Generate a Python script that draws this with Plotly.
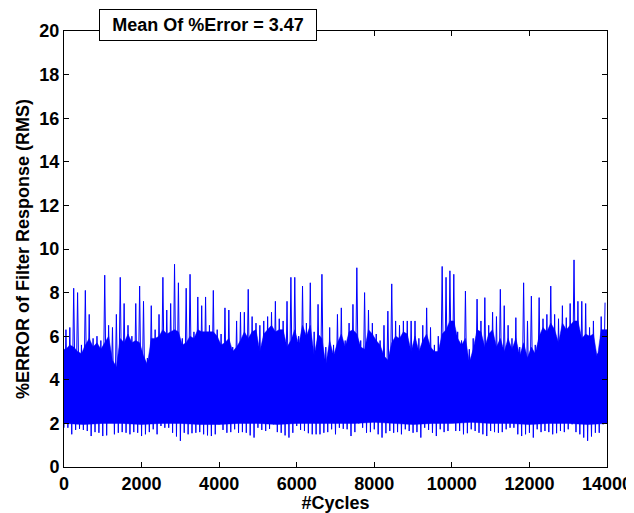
import plotly.graph_objects as go

# Upper spike envelope per 100-cycle bin
peaks = [6.3, 6.4, 8.2, 8.0, 5.6, 8.1, 7.0, 5.9, 6.0, 5.8, 8.8, 6.5, 6.4, 7.0, 8.7, 7.5, 6.5, 6.0, 7.5, 8.3, 7.6, 5.0, 7.4, 6.3,
         7.0, 8.7, 7.2, 7.5, 9.3, 8.45, 5.9, 8.2, 8.84, 6.2, 7.8, 7.4, 7.8, 6.5, 8.1, 6.3, 6.1, 7.3, 7.2, 5.5, 6.7, 7.1, 7.1,
         8.15, 6.9, 6.6, 6.5, 6.7, 6.9, 7.1, 7.6, 6.8, 6.7, 7.6, 8.7, 8.7, 6.0, 8.3, 6.6, 8.45, 6.2, 7.46, 8.84, 5.5, 6.4, 5.6,
         7.0, 7.3, 5.8, 6.6, 7.46, 9.14, 5.8, 8.0, 7.2, 6.6, 6.1, 5.8, 6.5, 7.15, 8.4, 6.7, 6.5, 6.7, 6.7, 6.7, 6.7, 5.9, 6.5,
         7.3, 6.4, 5.6, 6.0, 9.2, 8.7, 9.0, 8.84, 6.2, 5.8, 8.07, 5.4, 5.9, 7.7, 6.7, 7.77, 6.5, 7.1, 6.9, 8.15, 7.4, 6.5, 5.9,
         6.85, 5.5, 8.45, 6.7, 7.84, 5.6, 7.77, 6.8, 7.0, 8.3, 7.0, 6.8, 7.4, 6.85, 7.5, 9.5, 7.6, 7.6, 7.5, 6.4, 6.7, 5.2, 6.9, 7.54]

# Lower trough envelope per 100-cycle bin
troughs = [1.8, 1.8, 1.5, 1.7, 1.75, 1.7, 1.65, 1.42, 1.6, 1.57, 1.42, 1.45, 2.1, 1.5, 1.57, 1.6, 1.57, 1.5, 1.6, 1.57, 1.42, 1.5, 1.6, 1.73,
           1.5, 1.88, 1.8, 1.8, 1.57, 1.4, 1.2, 1.57, 1.5, 1.55, 1.57, 1.6, 1.5, 1.45, 1.42, 1.5, 1.96, 1.7, 1.57, 1.6, 1.73, 1.57, 1.6,
           1.57, 1.45, 1.35, 1.8, 1.7, 1.65, 1.75, 1.96, 1.6, 1.57, 1.45, 1.35, 1.57, 1.88, 1.7, 1.65, 1.55, 1.5, 1.5, 1.5, 1.57, 1.6, 1.73,
           1.5, 1.8, 1.75, 1.73, 1.42, 1.6, 2.0, 1.8, 1.57, 1.6, 1.73, 1.5, 1.35, 1.55, 1.65, 1.57, 1.6, 1.5, 1.73, 1.65, 1.57, 1.6, 1.35,
           1.8, 1.7, 1.57, 1.42, 1.73, 1.6, 1.65, 2.2, 1.65, 1.65, 1.5, 1.55, 1.73, 1.65, 1.57, 1.5, 1.42, 1.65, 1.6, 1.57, 1.6, 1.73, 1.8,
           1.8, 1.5, 1.42, 1.5, 1.57, 1.35, 1.73, 1.6, 1.65, 1.6, 1.5, 1.55, 1.65, 1.6, 1.73, 1.96, 1.6, 1.5, 1.35, 1.2, 1.4, 1.57, 1.57, 1.96]

# Top of the dense (solid) band per 100-cycle bin
band_top = [5.4, 5.6, 5.5, 5.3, 5.2, 5.6, 5.9, 5.5, 5.7, 5.4, 5.7, 6.0, 4.9, 4.6, 5.9, 5.7, 6.1, 5.7, 5.8, 5.7, 5.1, 4.7, 5.9, 5.9,
            6.0, 6.3, 6.1, 6.2, 6.3, 6.2, 5.6, 5.7, 6.0, 5.9, 6.3, 6.2, 6.2, 6.2, 6.2, 6.0, 5.6, 5.7, 5.9, 5.3, 5.5, 5.8, 6.2,
            5.9, 6.2, 6.3, 5.3, 6.1, 6.3, 6.5, 6.2, 6.3, 6.3, 5.5, 5.8, 6.3, 5.6, 6.5, 6.0, 6.5, 5.1, 6.1, 5.9, 4.7, 5.8, 5.1,
            5.7, 6.1, 5.5, 6.2, 6.3, 6.1, 5.5, 5.4, 6.3, 6.1, 5.8, 5.6, 5.1, 4.9, 5.7, 6.0, 5.9, 6.2, 6.1, 5.3, 6.0, 5.3, 5.8,
            6.1, 5.5, 5.3, 5.3, 6.1, 6.3, 6.7, 6.7, 5.9, 5.6, 5.9, 4.8, 5.4, 6.3, 6.2, 5.5, 6.1, 6.3, 5.5, 5.9, 5.3, 5.9, 5.4,
            5.9, 5.1, 5.7, 5.0, 5.5, 5.2, 6.0, 6.4, 6.2, 6.6, 6.3, 5.7, 6.6, 6.3, 6.5, 6.7, 6.7, 5.9, 6.1, 6.0, 6.1, 5.0, 6.3, 6.3]

# Bottom of the dense band (every 500 cycles)
core_bottom = [2.0, 1.95, 2.0, 2.0, 1.95, 2.0, 2.0, 1.95, 1.95, 2.0, 2.0, 1.95, 2.0, 2.0, 2.0,
               2.0, 2.05, 2.0, 1.95, 2.0, 2.0, 2.05, 2.0, 2.0, 1.95, 2.0, 2.0, 1.95, 2.0]

bin_width = 100
core_step = 500
x_ticks = [0, 2000, 4000, 6000, 8000, 10000, 12000, 14000]
x_tick_text = ["0", "2000", "4000", "6000", "8000", "10000", "12000", "14000"]
y_ticks = [0, 2, 4, 6, 8, 10, 12, 14, 16, 18, 20]
mean_error = 3.47

BLUE = "#0000FF"
FONT = "Liberation Sans, Arial, sans-serif"
FS = 18

# zigzag series: trough then peak in each bin
xs, ys = [], []
for k, (t, p) in enumerate(zip(troughs, peaks)):
    xs += [k * bin_width, k * bin_width + bin_width / 2]
    ys += [t, p]

xb = [k * bin_width + bin_width / 2 for k in range(len(band_top))]
xc = [i * core_step for i in range(len(core_bottom))]

# polygon: band top left->right, then bottom right->left
poly_x = [0] + xb + [14000] + xc[::-1]
poly_y = [band_top[0]] + band_top + [band_top[-1]] + core_bottom[::-1]

fig = go.Figure()
fig.add_trace(go.Scatter(x=poly_x, y=poly_y, mode="lines", line=dict(width=0.5, color=BLUE),
                         fill="toself", fillcolor=BLUE, hoverinfo="skip", showlegend=False))
fig.add_trace(go.Scatter(x=xs, y=ys, mode="lines", line=dict(width=1, color=BLUE),
                         showlegend=False))

axis_common = dict(showgrid=False, zeroline=False, showline=True, linecolor="black", linewidth=1,
                   mirror="ticks", ticks="inside", ticklen=5, tickcolor="black", automargin=False,
                   tickfont=dict(family=FONT, size=FS, color="black", weight="bold"))

# page body has an 8px default margin, so the figure is 8px smaller and shifted
fig.update_layout(
    width=626, height=505,
    margin=dict(l=56, r=27, t=23, b=46),
    plot_bgcolor="white", paper_bgcolor="white",
    showlegend=False,
    xaxis=dict(range=[0, 14000], tickvals=x_ticks, ticktext=x_tick_text, **axis_common,
               title=dict(text="#Cycles", standoff=2,
                          font=dict(family=FONT, size=FS, color="black", weight="bold"))),
    yaxis=dict(range=[0, 20], tickvals=y_ticks, **axis_common,
               title=dict(text="%ERROR of Filter Response (RMS)", standoff=5,
                          font=dict(family=FONT, size=FS, color="black", weight="bold"))),
    annotations=[dict(text=f"Mean Of %Error = {mean_error}", xref="paper", yref="paper",
                      x=(208 - 64) / 543, y=(467 - 25) / 436, xanchor="center", yanchor="middle",
                      showarrow=False, bgcolor="white", bordercolor="black", borderwidth=1,
                      borderpad=2, width=212, height=26,
                      font=dict(family=FONT, size=FS, color="black", weight="bold"))],
)

fig.write_html("out.html")
